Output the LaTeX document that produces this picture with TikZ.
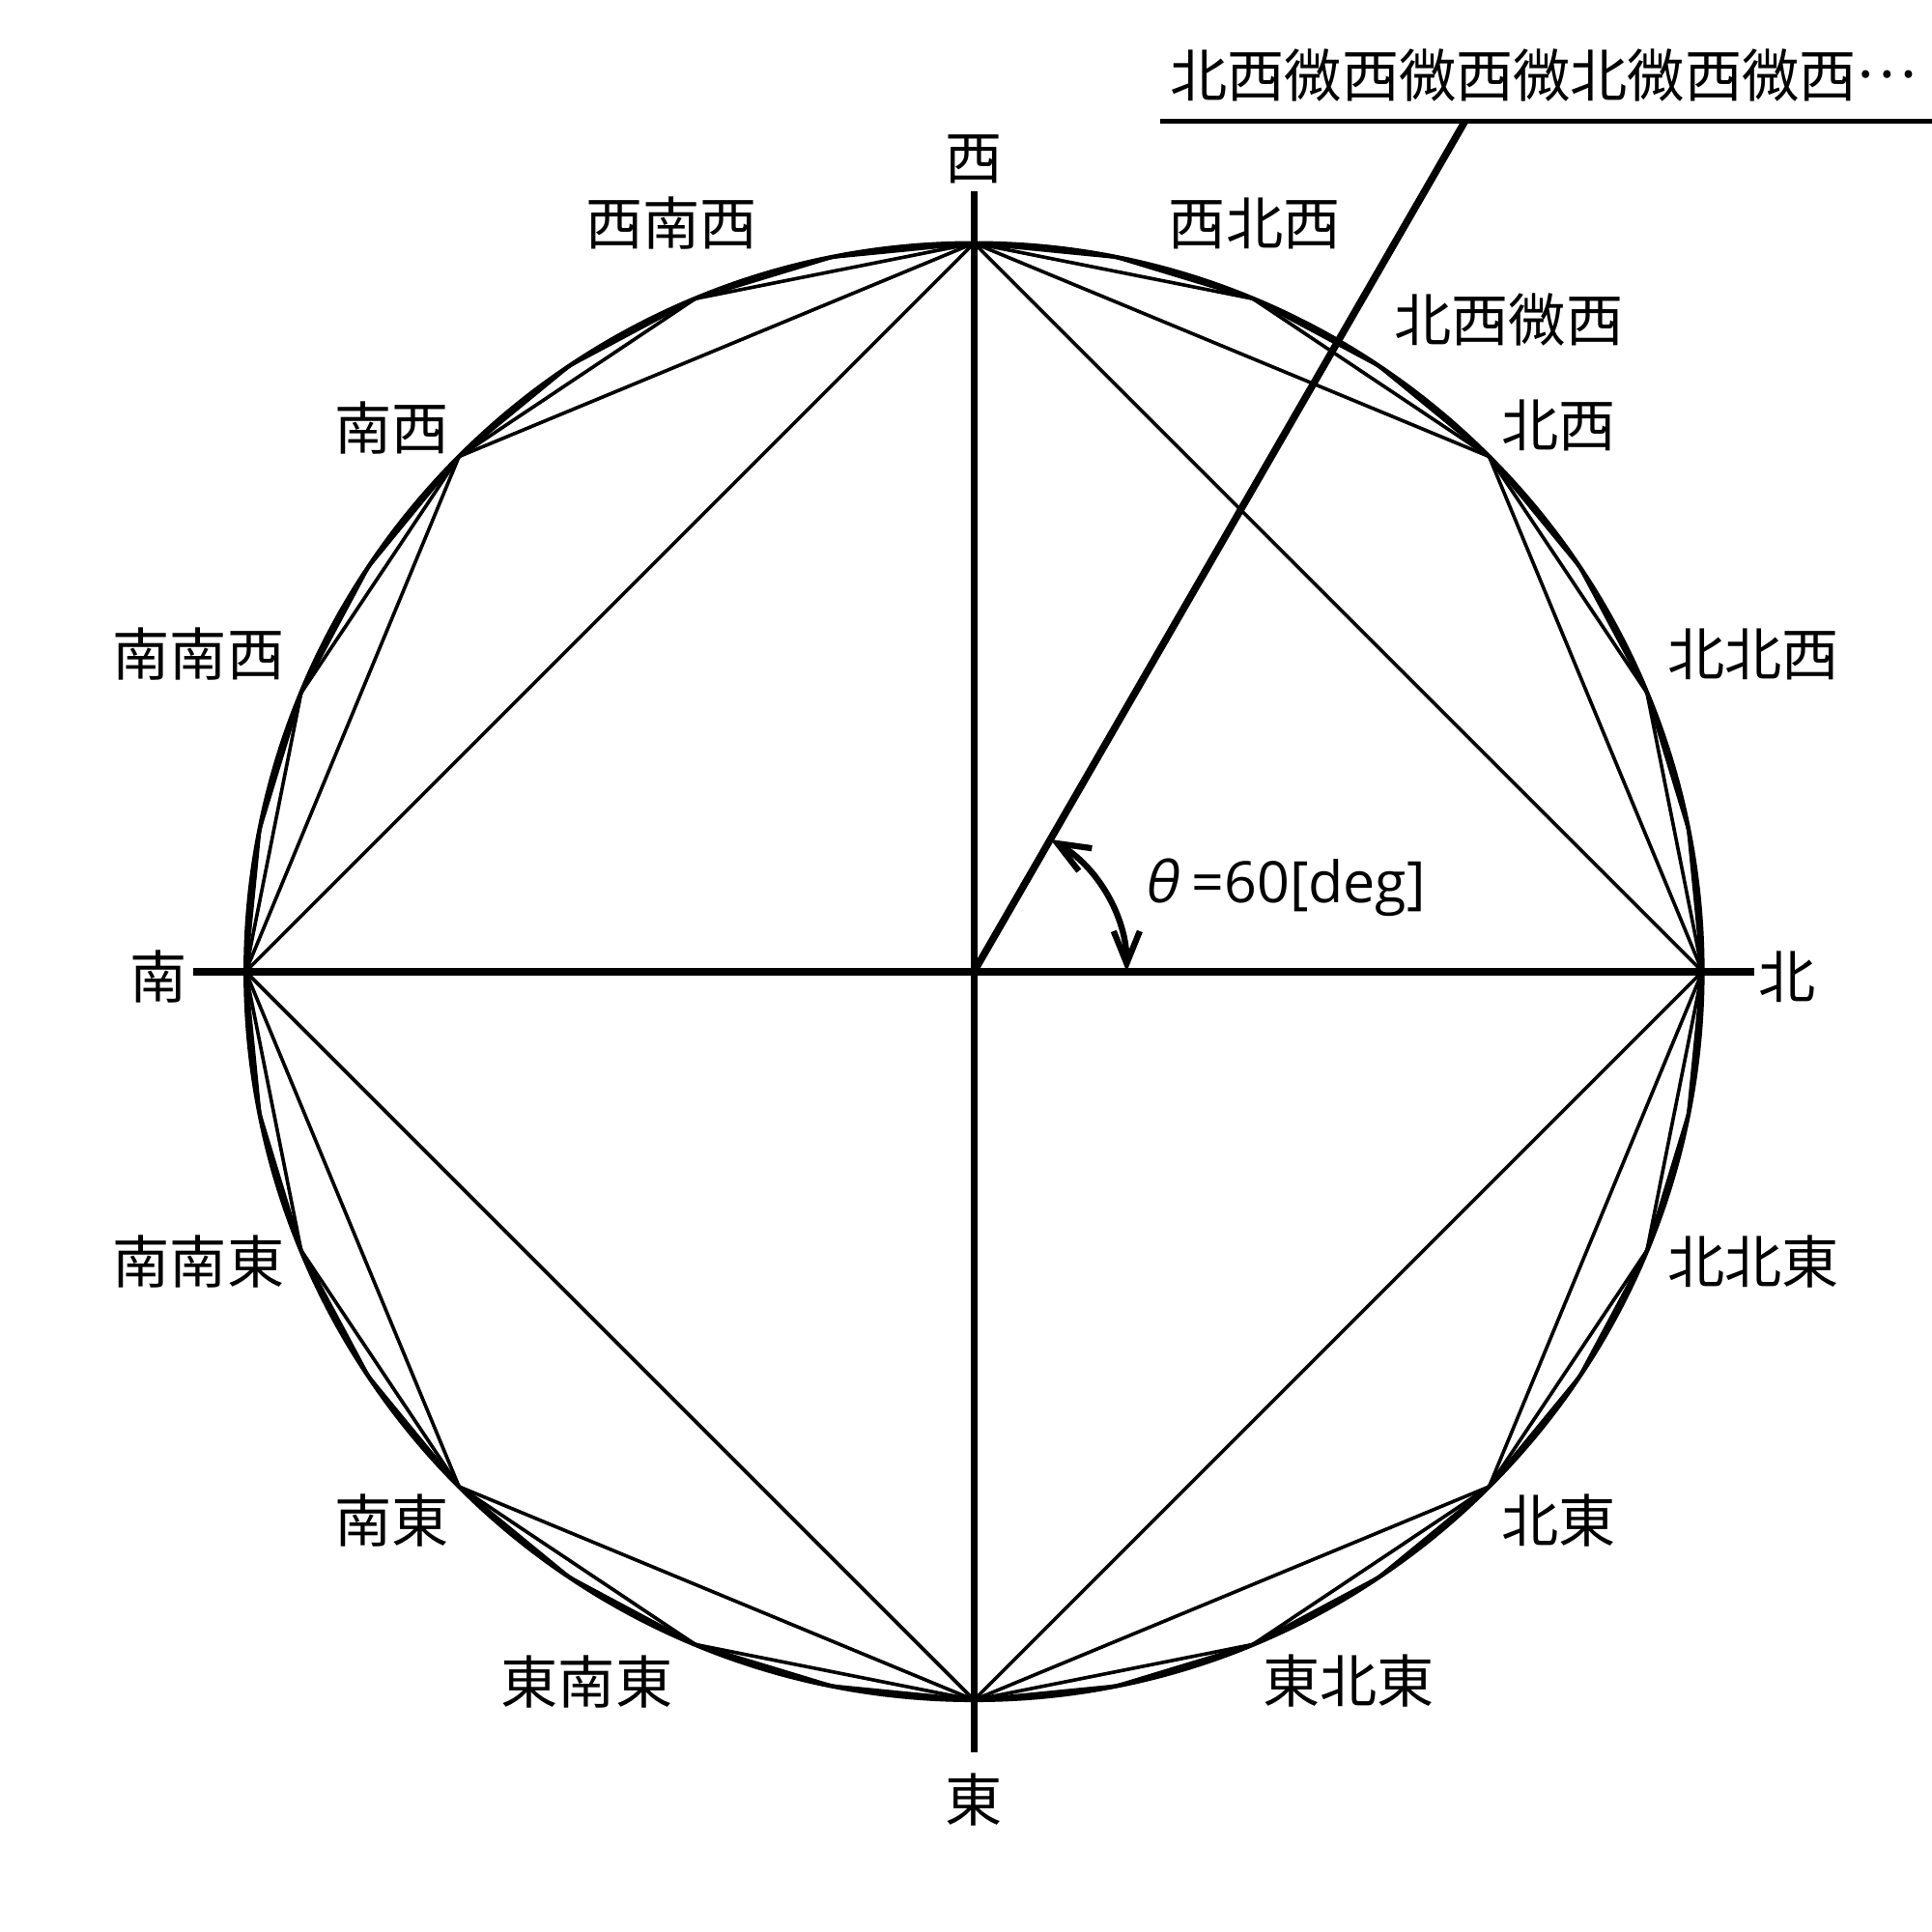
\documentclass[tikz,border=0pt]{standalone}
\usepackage{fontspec}
\newfontfamily\jpfont{Noto Sans CJK JP}
\newfontfamily\latinfont{Open Sans}
\newfontfamily\thetafont[FakeSlant=0.2]{Open Sans}
\usetikzlibrary{arrows.meta}
\begin{document}
\begin{tikzpicture}[x=0.01cm,y=0.01cm,
  lbl/.style={font=\jpfont\fontsize{13.1pt}{15pt}\selectfont, inner sep=0pt},
  latlbl/.style={font=\latinfont\fontsize{13.1pt}{15pt}\selectfont, inner sep=0pt},
  poly/.style={line width=0.8pt, line join=round},
  heavy/.style={line width=1.65pt},
  circ/.style={line width=1pt},
  uline/.style={line width=1.1pt},
  anglearc/.style={line width=1.4pt, {Straight Barb[length=7.4pt,width=6pt]}-{Straight Barb[length=7.4pt,width=6pt]}}]
\useasboundingbox (-785,-774) rectangle (772,783);
\coordinate (O) at (0,0);
% regular polygons: 4, 8, 16, 32 points
\foreach \n in {4,8,16,32} {
  \draw[poly] (0:587) \foreach \k in {1,...,\n} { -- ({\k*360/\n}:587) } -- cycle;
}
% circle
\draw[circ] (O) circle[radius=587];
% axes
\coordinate (AS) at (-629,0);
\coordinate (AN) at (629,0);
\coordinate (AE) at (0,-629);
\coordinate (AW) at (0,629);
\draw[heavy] (AS) -- (AN);
\draw[heavy] (AE) -- (AW);
% 60 degree line with leader
\coordinate (P) at (60:791);
\coordinate (UL) at (150,685);
\coordinate (UR) at (772,685);
\draw[heavy] (O) -- (P);
\draw[uline] (UL) -- (UR);
% angle arc
\coordinate (A0) at (0:123);
\draw[anglearc] (A0) arc[start angle=0,end angle=60,radius=123];
% labels
\node[lbl] (lW) at (0,655) {西};
\node[lbl] (lE) at (0,-667) {東};
\node[lbl] (lS) at (-657,-4) {南};
\node[lbl] (lN) at (655,-4) {北};
\node[lbl] (lWSW) at (-244,603) {西南西};
\node[lbl] (lWNW) at (226,603) {西北西};
\node[lbl] (lNWbW) at (431,525) {北西微西};
\node[lbl] (lNW) at (471,440) {北西};
\node[lbl] (lSW) at (-469,438) {南西};
\node[lbl] (lNNW) at (628,256) {北北西};
\node[lbl] (lSSW) at (-625,256) {南南西};
\node[lbl] (lSSE) at (-625,-234) {南南東};
\node[lbl] (lNNE) at (628,-234) {北北東};
\node[lbl] (lSE) at (-469,-442) {南東};
\node[lbl] (lNE) at (471,-442) {北東};
\node[lbl] (lESE) at (-312,-572) {東南東};
\node[lbl] (lENE) at (302,-572) {東北東};
\node[latlbl] (theta) at (250,68) {{\thetafont θ} =60[deg]};
\node[lbl] (title) at (459,722) {北西微西微西微北微西微西\raisebox{0.34em}{…}};
\end{tikzpicture}
\end{document}
